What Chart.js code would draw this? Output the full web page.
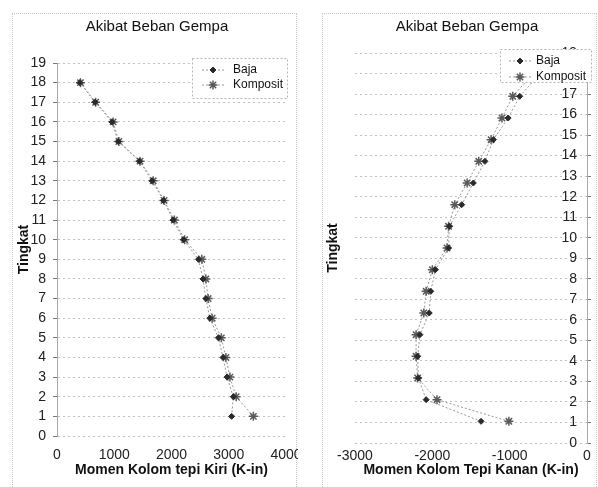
<!DOCTYPE html>
<html>
<head>
<meta charset="utf-8">
<script src="https://cdn.jsdelivr.net/npm/chart.js@4.4.1/dist/chart.umd.min.js"></script>
<style>
  html, body { margin: 0; padding: 0; background: #fff; }
  #wrap { position: relative; width: 598px; height: 487px; overflow: hidden; }
  .box { position: absolute; border: 1px dotted #c8c8c8; }
  canvas { position: absolute; top: 0; }
</style>
</head>
<body>
<div id="wrap">
  <div class="box" style="left:12px;top:13px;width:283px;height:490px"></div>
  <div class="box" style="left:322px;top:13px;width:273px;height:490px"></div>
  <canvas id="kiri" width="298" height="487" style="left:0"></canvas>
  <canvas id="kanan" width="298" height="487" style="left:300px"></canvas>
</div>

<script>
/* ===============================
   Data
================================*/
const judul = "Akibat Beban Gempa";
const seriesNames = ["Baja", "Komposit"];

// left chart: Momen Kolom tepi Kiri
const tingkatKiri = [1, 2, 3, 4, 5, 6, 7, 8, 9, 10, 11, 12, 13, 14, 15, 16, 17, 18];
const bajaKiri = [3050, 3080, 2970, 2900, 2820, 2670, 2600, 2550, 2470, 2210, 2030, 1860, 1660, 1440, 1070, 960, 665, 400];
const kompositKiri = [3430, 3130, 3020, 2950, 2870, 2710, 2640, 2600, 2530, 2230, 2050, 1870, 1680, 1450, 1080, 980, 675, 410];
const xTicksKiri = [0, 1000, 2000, 3000, 4000];

// right chart: Momen Kolom Tepi Kanan
const tingkatKanan = [1, 2, 3, 4, 5, 6, 7, 8, 9, 10, 11, 12, 13, 14, 15, 16, 17];
const bajaKanan = [-1370, -2080, -2180, -2190, -2160, -2040, -2020, -1960, -1790, -1780, -1620, -1470, -1320, -1210, -1020, -870, -620];
const kompositKanan = [-1010, -1940, -2190, -2210, -2210, -2110, -2080, -2000, -1810, -1790, -1710, -1550, -1400, -1240, -1100, -960, -710];
const xTicksKanan = [-3000, -2000, -1000, 0];

const tingkatRange = [0, 19]; // min / max level shown

/* ===============================
   Helpers
================================*/
const FONT = "'Liberation Sans', Arial, sans-serif";

function toPoints(values, levels) {
  return levels.map((lv, i) => ({ x: values[i], y: lv }));
}

const styleBaja = {
  pointStyle: "rectRot", pointRadius: 3,
  pointBackgroundColor: "#2a2a2a", pointBorderColor: "#2a2a2a", pointBorderWidth: 1,
  borderColor: "#999", borderWidth: 1, borderDash: [2, 2]
};
const styleKomposit = {
  pointStyle: "star", pointRadius: 4.5,
  pointBackgroundColor: "#5a5a5a", pointBorderColor: "#5a5a5a", pointBorderWidth: 1.5,
  borderColor: "#999", borderWidth: 1, borderDash: [2, 2]
};

function makeDatasets(baja, komposit, levels) {
  return [
    Object.assign({ label: seriesNames[0], data: toPoints(baja, levels), showLine: true }, styleBaja),
    Object.assign({ label: seriesNames[1], data: toPoints(komposit, levels), showLine: true }, styleKomposit)
  ];
}

/* ===============================
   Legend box drawn over the plot
================================*/
const legendBox = {
  id: "legendBox",
  afterDraw(chart, args, opts) {
    const ctx = chart.ctx;
    ctx.save();
    ctx.fillStyle = "#fff";
    ctx.fillRect(opts.x, opts.y, opts.w, opts.h);
    ctx.setLineDash([2, 2]);
    ctx.strokeStyle = "#b5b5b5";
    ctx.lineWidth = 1;
    ctx.strokeRect(opts.x + 0.5, opts.y + 0.5, opts.w, opts.h);

    chart.data.datasets.forEach((ds, i) => {
      const cy = opts.y + opts.firstRow + i * opts.rowGap;
      // line sample
      ctx.setLineDash([2, 2]);
      ctx.strokeStyle = ds.borderColor;
      ctx.lineWidth = 1;
      ctx.beginPath();
      ctx.moveTo(opts.markerX - 11, cy);
      ctx.lineTo(opts.markerX + 13, cy);
      ctx.stroke();
      // marker
      ctx.setLineDash([]);
      ctx.fillStyle = ds.pointBackgroundColor;
      ctx.strokeStyle = ds.pointBorderColor;
      ctx.lineWidth = ds.pointBorderWidth;
      Chart.helpers.drawPoint(ctx, {
        pointStyle: ds.pointStyle, radius: ds.pointRadius, rotation: 0, borderWidth: ds.pointBorderWidth
      }, opts.markerX, cy);
      // text
      ctx.fillStyle = "#111";
      ctx.font = "12px " + FONT;
      ctx.textBaseline = "middle";
      ctx.textAlign = "left";
      ctx.fillText(ds.label, opts.textX, cy);
    });
    ctx.restore();
  }
};

const tickFont = { family: FONT, size: 14 };
const titleFont = { family: FONT, size: 14, weight: "bold" };
const headFont = { family: FONT, size: 15, weight: "normal" };
const plainNumber = (v) => String(v);

/* ===============================
   Left chart
================================*/
new Chart(document.getElementById("kiri"), {
  type: "scatter",
  data: { datasets: makeDatasets(bajaKiri, kompositKiri, tingkatKiri) },
  plugins: [legendBox],
  options: {
    responsive: false,
    animation: false,
    layout: { padding: { left: 28, right: 12, top: 0, bottom: 0 } },
    plugins: {
      legend: { display: false },
      tooltip: { enabled: false },
      title: {
        display: true, text: judul, color: "#111", font: headFont,
        padding: { top: 18, bottom: 27 }
      },
      legendBox: { x: 192, y: 58, w: 95, h: 40, firstRow: 12, rowGap: 15, markerX: 213, textX: 233 }
    },
    scales: {
      x: {
        type: "linear",
        min: xTicksKiri[0], max: xTicksKiri[xTicksKiri.length - 1],
        afterBuildTicks: (s) => { s.ticks = xTicksKiri.map(v => ({ value: v })); },
        ticks: { font: tickFont, color: "#222", padding: 11, maxRotation: 0, autoSkip: false, callback: plainNumber },
        grid: { display: false, drawTicks: false },
        border: { display: false },
        title: { display: true, text: "Momen Kolom tepi Kiri (K-in)", color: "#111", font: titleFont, padding: { top: 0, bottom: 8 } },
        afterFit: (s) => { s.height = 51; s.paddingLeft = 0; s.paddingRight = 0; }
      },
      y: {
        type: "linear",
        min: tingkatRange[0], max: tingkatRange[1],
        ticks: { stepSize: 1, font: tickFont, color: "#222", padding: 7, autoSkip: false },
        grid: { color: "#c2c2c2", lineWidth: 1, tickLength: 4, tickColor: "#777" },
        border: { color: "#aaa", dash: [2, 3] },
        title: { display: true, text: "Tingkat", color: "#111", font: titleFont, padding: { top: -12 } },
        afterFit: (s) => { s.width = 29; s.paddingTop = 0; s.paddingBottom = 0; }
      }
    }
  }
});

/* ===============================
   Right chart (axis on the right)
================================*/
new Chart(document.getElementById("kanan"), {
  type: "scatter",
  data: { datasets: makeDatasets(bajaKanan, kompositKanan, tingkatKanan) },
  plugins: [legendBox],
  options: {
    responsive: false,
    animation: false,
    layout: { padding: { left: 36, right: 0, top: 0, bottom: 0 } },
    plugins: {
      legend: { display: false },
      tooltip: { enabled: false },
      title: {
        display: true, text: judul, color: "#111", font: headFont,
        padding: { top: 18, bottom: 17 }
      },
      legendBox: { x: 200, y: 49, w: 91, h: 33, firstRow: 12, rowGap: 16, markerX: 220, textX: 236 }
    },
    scales: {
      x: {
        type: "linear",
        min: xTicksKanan[0], max: xTicksKanan[xTicksKanan.length - 1],
        afterBuildTicks: (s) => { s.ticks = xTicksKanan.map(v => ({ value: v })); },
        ticks: { font: tickFont, color: "#222", padding: 5, maxRotation: 0, autoSkip: false, callback: plainNumber },
        grid: { display: false, drawTicks: false },
        border: { display: false },
        title: { display: true, text: "Momen Kolom Tepi Kanan (K-in)", color: "#111", font: titleFont, padding: { top: 0, bottom: 8 } },
        afterFit: (s) => { s.height = 44; s.paddingLeft = 0; s.paddingRight = 0; }
      },
      yt: {
        type: "linear", position: "left",
        ticks: { display: false },
        grid: { display: false },
        border: { display: false },
        title: { display: true, text: "Tingkat", color: "#111", font: titleFont, padding: { top: -11 } },
        afterFit: (s) => { s.width = 19; s.paddingTop = 0; s.paddingBottom = 0; }
      },
      y: {
        type: "linear", position: "right",
        min: tingkatRange[0], max: tingkatRange[1],
        ticks: { stepSize: 1, font: tickFont, color: "#222", mirror: true, padding: -10, autoSkip: false },
        grid: { color: "#c2c2c2", lineWidth: 1, tickLength: 4, tickColor: "#777" },
        border: { color: "#aaa", dash: [2, 3] },
        afterFit: (s) => { s.width = 11; s.paddingTop = 0; s.paddingBottom = 0; }
      }
    }
  }
});
</script>
</body>
</html>
